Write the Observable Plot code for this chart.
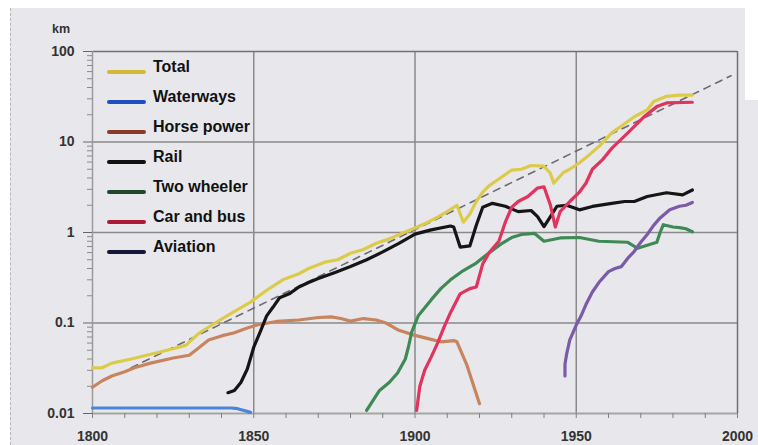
<!DOCTYPE html>
<html><head><meta charset="utf-8">
<script src="https://cdn.jsdelivr.net/npm/d3@7"></script>
<script src="https://cdn.jsdelivr.net/npm/@observablehq/plot@0.6"></script>
<style>
html,body{margin:0;padding:0;background:#fff;}
#wrap{position:relative;width:758px;height:445px;overflow:hidden;font-family:"Liberation Sans",Arial,sans-serif;}
#bg{position:absolute;left:10px;top:8px;width:748px;height:437px;background:#e8e8ec;border-left:1px dashed #b8b8b8;}
#corner{position:absolute;left:745px;top:0;width:13px;height:100px;background:#fff;}
#chart{position:absolute;left:0;top:0;}
</style></head>
<body>
<div id="wrap"><div id="bg"></div><div id="corner"></div><div id="chart"></div></div>
<script>
// ---- data (year, km per day) ----
const total = [[1800,0.032],[1803,0.032],[1806,0.036],[1812,0.040],[1819,0.046],[1825,0.052],[1829,0.057],[1833,0.077],[1838,0.10],[1843,0.128],[1849,0.17],[1854,0.23],[1859,0.30],[1864,0.35],[1867,0.40],[1872,0.47],[1876,0.50],[1880,0.59],[1884,0.65],[1888,0.76],[1892,0.85],[1896,0.98],[1900,1.12],[1904,1.3],[1907,1.48],[1910,1.7],[1913,2.0],[1915,1.3],[1917,1.6],[1919,2.2],[1921,2.8],[1923,3.3],[1926,3.9],[1930,4.9],[1933,5.0],[1936,5.5],[1940,5.4],[1942,4.5],[1943,3.5],[1946,4.6],[1948,5.0],[1951,5.9],[1954,7.2],[1957,8.9],[1961,12.6],[1964,15],[1968,19],[1972,22.6],[1974,28],[1978,32],[1982,33],[1986,33]];
const waterways = [[1800,0.0115],[1843,0.0115],[1845,0.0113],[1847,0.0108],[1849,0.0103]];
const horsePower = [[1800,0.0195],[1803,0.023],[1806,0.026],[1810,0.029],[1813,0.032],[1818,0.036],[1825,0.041],[1830,0.044],[1832,0.05],[1836,0.065],[1840,0.072],[1844,0.078],[1848,0.088],[1851,0.095],[1857,0.104],[1864,0.108],[1870,0.115],[1874,0.117],[1877,0.112],[1880,0.105],[1884,0.112],[1888,0.108],[1891,0.1],[1895,0.083],[1900,0.073],[1905,0.066],[1908,0.062],[1912,0.064],[1913,0.062],[1916,0.035],[1920,0.0128]];
const rail = [[1842,0.017],[1844,0.018],[1846,0.022],[1848,0.031],[1850,0.054],[1852,0.08],[1854,0.12],[1856,0.15],[1858,0.19],[1861,0.21],[1864,0.25],[1867,0.28],[1870,0.31],[1875,0.36],[1880,0.42],[1885,0.50],[1890,0.61],[1895,0.76],[1900,0.96],[1905,1.07],[1911,1.18],[1912,1.15],[1914,0.69],[1917,0.71],[1919,1.2],[1921,1.9],[1924,2.1],[1928,1.95],[1932,1.7],[1936,1.75],[1938,1.5],[1940,1.16],[1942,1.5],[1944,1.95],[1947,2.0],[1951,1.78],[1955,1.94],[1961,2.1],[1965,2.2],[1968,2.2],[1972,2.5],[1978,2.75],[1983,2.6],[1986,2.95]];
const twoWheeler = [[1885,0.0108],[1887,0.014],[1889,0.018],[1892,0.022],[1894.6,0.028],[1897,0.04],[1898,0.055],[1899,0.08],[1901,0.12],[1905,0.18],[1908,0.24],[1911,0.30],[1915,0.38],[1919,0.46],[1922,0.56],[1927,0.76],[1930,0.88],[1933,0.95],[1937,0.98],[1940,0.80],[1945,0.87],[1951,0.88],[1957,0.80],[1966,0.78],[1969,0.67],[1975,0.78],[1976,1.0],[1977,1.22],[1980,1.15],[1982,1.13],[1984,1.1],[1986,1.02]];
const carAndBus = [[1900.5,0.0108],[1901.5,0.02],[1903,0.03],[1905,0.042],[1907,0.06],[1909,0.09],[1911,0.13],[1914,0.21],[1917,0.24],[1919,0.25],[1921,0.45],[1923,0.6],[1926,0.8],[1928,1.3],[1930,1.9],[1932,2.2],[1935,2.5],[1938,3.1],[1940,3.2],[1942,2.0],[1943.5,1.15],[1945,1.7],[1948,2.2],[1951,2.8],[1953,3.5],[1955,5.0],[1958,6.3],[1961,8.5],[1966,12.6],[1971,19],[1975,24.6],[1978,27],[1986,27.5]];
const aviation = [[1946.5,0.026],[1946.5,0.035],[1947,0.045],[1948,0.065],[1950,0.095],[1951.5,0.12],[1953,0.16],[1955,0.22],[1957,0.28],[1960,0.37],[1962,0.40],[1964,0.42],[1966,0.52],[1968,0.62],[1970,0.78],[1972,0.95],[1974,1.2],[1976,1.45],[1979,1.78],[1982,1.95],[1984,2.0],[1986,2.15]];
const trend = [[1812,0.032],[1998,54]];

const seriesNames = ["Total","Waterways","Horse power","Rail","Two wheeler","Car and bus","Aviation"];
const seriesData  = [total, waterways, horsePower, rail, twoWheeler, carAndBus, aviation];
const lineColors  = ["#dccb4a","#4a85d6","#c7845f","#151515","#3d8a55","#e0335e","#7b5ba8"];
const legendColors= ["#d4b838","#1f4fc0","#8b3a2a","#111111","#1d4a2a","#b0183a","#15163a"];
const drawOrder   = ["Waterways","Horse power","Two wheeler","Aviation","Rail","Car and bus","Total"];

const yTicks = [0.01, 0.1, 1, 10, 100];
const yTickLabels = ["0.01","0.1","1","10","100"];
const xTicks = [1800, 1850, 1900, 1950, 2000];
const axisTitle = "km";

// ---- build tables ----
const rows = drawOrder.flatMap(n => {
  const i = seriesNames.indexOf(n);
  return seriesData[i].map(([year, value]) => ({series: n, year, value}));
});
const trendRows = trend.map(([year, value]) => ({year, value}));
const yMinor = yTicks.slice(0, -1).flatMap(d => d3.range(2, 10).map(k => d * k));
const yLabelMap = new Map(yTicks.map((d, i) => [d, yTickLabels[i]]));
const font = "Liberation Sans, Arial, sans-serif";

const chart = Plot.plot({
  width: 758, height: 445,
  marginLeft: 92, marginRight: 21, marginTop: 51, marginBottom: 32,
  style: {background: "transparent", fontFamily: font, overflow: "visible"},
  x: {domain: [1800, 2000]},
  y: {type: "log", domain: [0.01, 100]},
  color: {domain: seriesNames, range: lineColors},
  marks: [
    Plot.ruleY([0.1, 1, 10], {stroke: "#8a8a8a", strokeWidth: 1.5}),
    Plot.ruleX([1850, 1900, 1950], {stroke: "#8a8a8a", strokeWidth: 1.5}),
    Plot.ruleY([100], {stroke: "#707070", strokeWidth: 1.5}),
    Plot.ruleX([2000], {stroke: "#707070", strokeWidth: 1.5}),
    Plot.ruleX([1800], {stroke: "#9a9a9a", strokeWidth: 1.5}),
    Plot.ruleY([0.01], {stroke: "#a5a5a5", strokeWidth: 2}),
    Plot.axisX({ticks: d3.range(1800, 2001, 10), tickSize: 5, tickFormat: () => "", stroke: "#808080", label: null}),
    Plot.axisX({ticks: xTicks, tickSize: 0, tickPadding: 18, tickFormat: d => String(d), fontSize: 14, fontWeight: "bold", fill: "#333", label: null}),
    Plot.axisY({ticks: yMinor, tickSize: 5, tickFormat: () => "", stroke: "#8a8a8a", label: null}),
    Plot.axisY({ticks: yTicks, tickSize: 9, tickPadding: 9, tickFormat: d => yLabelMap.get(d), fontSize: 14, fontWeight: "bold", fill: "#333", stroke: "#666", label: null}),
    Plot.line(trendRows, {x: "year", y: "value", stroke: "#6a6a72", strokeWidth: 1.6, strokeDasharray: "7,6"}),
    Plot.line(rows, {x: "year", y: "value", z: "series", stroke: "series", strokeWidth: 3.2, strokeLinejoin: "round", strokeLinecap: "round"})
  ]
});
document.getElementById("chart").appendChild(chart);

// ---- axis unit and legend ----
const svg = d3.select(chart);
svg.append("text").attr("x", 52).attr("y", 33).attr("text-anchor", "start").attr("font-family", font).attr("font-size", 12.5)
  .attr("font-weight", "bold").attr("fill", "#333").text(axisTitle);
const lg = svg.append("g").attr("text-anchor", "start");
seriesNames.forEach((n, i) => {
  const base = 72 + i * 30;
  lg.append("line").attr("x1", 109).attr("x2", 144).attr("y1", base).attr("y2", base)
    .attr("stroke", legendColors[i]).attr("stroke-width", 4).attr("stroke-linecap", "round");
  lg.append("text").attr("x", 153).attr("y", base).attr("text-anchor", "start").attr("font-family", font).attr("font-size", 16)
    .attr("font-weight", "bold").attr("fill", "#111").text(n);
});
</script>
</body></html>
